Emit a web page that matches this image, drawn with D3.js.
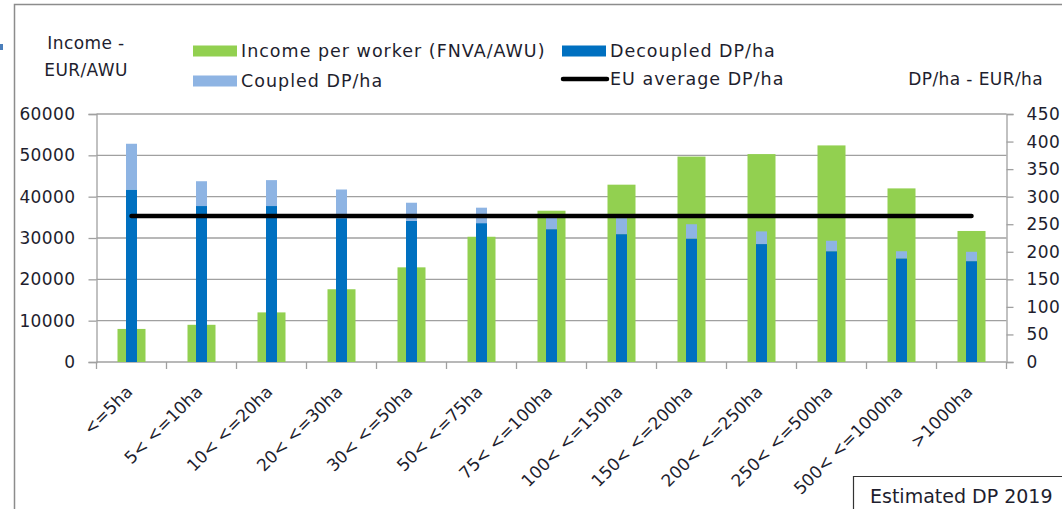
<!DOCTYPE html>
<html>

<head>
    <meta charset="UTF-8">
    <title>Income per worker and DP/ha by farm size</title>
    <style>
        body {
            margin: 0;
            background-color: white;
        }
        svg text {
            font-family: "DejaVu Sans", sans-serif;
            fill: #1e1e2e;
        }
    </style>
</head>

<body>
    <svg></svg>
    <script src="https://d3js.org/d3.v7.min.js"></script>
    <script>
        // data
        let categories = ["<=5ha", "5< <=10ha", "10< <=20ha", "20< <=30ha", "30< <=50ha", "50< <=75ha",
            "75< <=100ha", "100< <=150ha", "150< <=200ha", "200< <=250ha", "250< <=500ha",
            "500< <=1000ha", ">1000ha"]
        let income = [8000, 9000, 12000, 17600, 22900, 30300, 36600, 42900, 49700, 50300, 52400, 42000, 31700]
        let decoupled = [313, 283, 283, 261, 256, 252, 241, 232, 224, 214, 201, 188, 183]
        let coupled = [83, 45, 47, 52, 33, 28, 22, 29, 26, 23, 19, 13, 17]
        let euAverage = 265
        let leftTicks = [0, 10000, 20000, 30000, 40000, 50000, 60000]
        let rightTicks = [0, 50, 100, 150, 200, 250, 300, 350, 400, 450]

        let width = 1062, height = 509;
        let plotLeft = 96.5, plotRight = 1006.5, plotTop = 114, plotBottom = 362;

        let green = "#92d050", darkBlue = "#0070c0", lightBlue = "#8eb4e3", grid = "#a0a0a0";

        let svg = d3.select("svg")
            .attr("width", width)
            .attr("height", height)

        let x = d3.scaleBand().domain(categories).range([plotLeft, plotRight]);
        let yL = d3.scaleLinear().domain([0, 60000]).range([plotBottom, plotTop]);
        let yR = d3.scaleLinear().domain([0, 450]).range([plotBottom, plotTop]);

        // frame around the chart
        svg.append("path")
            .attr("d", "M14.5," + height + "V4.5H" + width)
            .attr("fill", "none")
            .attr("stroke", "#8c8c8c")
            .attr("stroke-width", 1.5)
        svg.append("rect")
            .attr("x", 0).attr("y", 44).attr("width", 3).attr("height", 6)
            .attr("fill", "#4a7ebb")

        // gridlines
        svg.append("g")
            .selectAll("line")
            .data(leftTicks)
            .enter()
            .append("line")
            .attr("x1", plotLeft).attr("x2", plotRight)
            .attr("y1", d => yL(d)).attr("y2", d => yL(d))
            .attr("stroke", grid)
            .attr("stroke-width", 1.3)

        // left axis
        let axisL = svg.append("g")
            .attr("transform", "translate(" + plotLeft + ",0)")
            .call(d3.axisLeft(yL).tickValues(leftTicks).tickSize(8).tickPadding(13).tickFormat(d3.format("d")))
        // right axis
        let axisR = svg.append("g")
            .attr("transform", "translate(" + plotRight + ",0)")
            .call(d3.axisRight(yR).tickValues(rightTicks).tickSize(7).tickPadding(13).tickFormat(d3.format("d")))
        // bottom axis ticks at category boundaries
        let bounds = categories.map(c => x(c)).concat([plotRight])
        svg.append("g")
            .selectAll("line")
            .data(bounds)
            .enter()
            .append("line")
            .attr("x1", d => d).attr("x2", d => d)
            .attr("y1", plotBottom).attr("y2", plotBottom + 7)
            .attr("stroke", grid)
            .attr("stroke-width", 1.3)

        for (let a of [axisL, axisR]) {
            a.select(".domain").attr("stroke", grid).attr("stroke-width", 1.3)
            a.selectAll(".tick line").attr("stroke", grid).attr("stroke-width", 1.3)
            a.selectAll(".tick text")
                .attr("font-size", 17)
                .attr("letter-spacing", 0.4)
                .attr("fill", "#1e1e2e")
                .style("font-family", "DejaVu Sans")
        }

        // income bars (green, wide)
        let gw = x.bandwidth() * 0.4;
        svg.append("g")
            .selectAll("rect")
            .data(income)
            .enter()
            .append("rect")
            .attr("x", (d, i) => x(categories[i]) + x.bandwidth() / 2 - gw / 2)
            .attr("width", gw)
            .attr("y", d => yL(d))
            .attr("height", d => plotBottom - yL(d))
            .attr("fill", green)

        // DP/ha stacked bars (narrow)
        let bw = 11;
        let stacks = svg.append("g")
        stacks.selectAll("rect.dec")
            .data(decoupled)
            .enter()
            .append("rect")
            .attr("class", "dec")
            .attr("x", (d, i) => x(categories[i]) + x.bandwidth() / 2 - bw / 2)
            .attr("width", bw)
            .attr("y", d => yR(d))
            .attr("height", d => plotBottom - yR(d))
            .attr("fill", darkBlue)
        stacks.selectAll("rect.cou")
            .data(coupled)
            .enter()
            .append("rect")
            .attr("class", "cou")
            .attr("x", (d, i) => x(categories[i]) + x.bandwidth() / 2 - bw / 2)
            .attr("width", bw)
            .attr("y", (d, i) => yR(decoupled[i] + d))
            .attr("height", (d, i) => yR(decoupled[i]) - yR(decoupled[i] + d))
            .attr("fill", lightBlue)

        // EU average line
        svg.append("line")
            .attr("x1", x(categories[0]) + x.bandwidth() / 2)
            .attr("x2", x(categories[categories.length - 1]) + x.bandwidth() / 2)
            .attr("y1", yR(euAverage)).attr("y2", yR(euAverage))
            .attr("stroke", "black")
            .attr("stroke-width", 4.5)
            .attr("stroke-linecap", "round")

        // category labels
        svg.append("g")
            .selectAll("text")
            .data(categories)
            .enter()
            .append("text")
            .attr("transform", d => "translate(" + (x(d) + x.bandwidth() / 2 + 2) + "," + (plotBottom + 31) + ") rotate(-45)")
            .attr("text-anchor", "end")
            .attr("font-size", 17)
            .text(d => d)

        // axis titles
        svg.append("text").attr("x", 86).attr("y", 49).attr("text-anchor", "middle")
            .attr("font-size", 17).attr("letter-spacing", 0.4).text("Income -")
        svg.append("text").attr("x", 86).attr("y", 76).attr("text-anchor", "middle")
            .attr("font-size", 17).attr("letter-spacing", 0.4).text("EUR/AWU")
        svg.append("text").attr("x", 1043).attr("y", 85).attr("text-anchor", "end")
            .attr("font-size", 17).attr("letter-spacing", 0.4).text("DP/ha - EUR/ha")

        // legend
        let legendItems = [
            {label: "Income per worker (FNVA/AWU)", color: green, type: "box", x: 193, y: 51},
            {label: "Decoupled DP/ha", color: darkBlue, type: "box", x: 562, y: 51},
            {label: "Coupled DP/ha", color: lightBlue, type: "box", x: 193, y: 81},
            {label: "EU average DP/ha", color: "black", type: "line", x: 562, y: 79}
        ]
        let legend = svg.append("g")
            .selectAll("g")
            .data(legendItems)
            .enter()
            .append("g")
            .attr("transform", d => "translate(" + d.x + "," + d.y + ")")
        legend.filter(d => d.type == "box")
            .append("rect")
            .attr("x", 0).attr("y", -5.5)
            .attr("width", 44).attr("height", 11)
            .attr("fill", d => d.color)
        legend.filter(d => d.type == "line")
            .append("line")
            .attr("x1", 1).attr("x2", 45)
            .attr("y1", 0).attr("y2", 0)
            .attr("stroke", "black")
            .attr("stroke-width", 4.5)
            .attr("stroke-linecap", "round")
        legend.append("text")
            .attr("x", 48)
            .attr("y", 6)
            .attr("font-size", 17.5)
            .attr("letter-spacing", 1)
            .text(d => d.label)

        // cut-off box at the bottom right
        svg.append("path")
            .attr("d", "M853.5," + height + "V476.5H" + width)
            .attr("fill", "none")
            .attr("stroke", "#333")
            .attr("stroke-width", 1.2)
        svg.append("text")
            .attr("x", 870)
            .attr("y", 503)
            .attr("font-size", 19)
            .text("Estimated DP 2019")
    </script>

</body>

</html>
